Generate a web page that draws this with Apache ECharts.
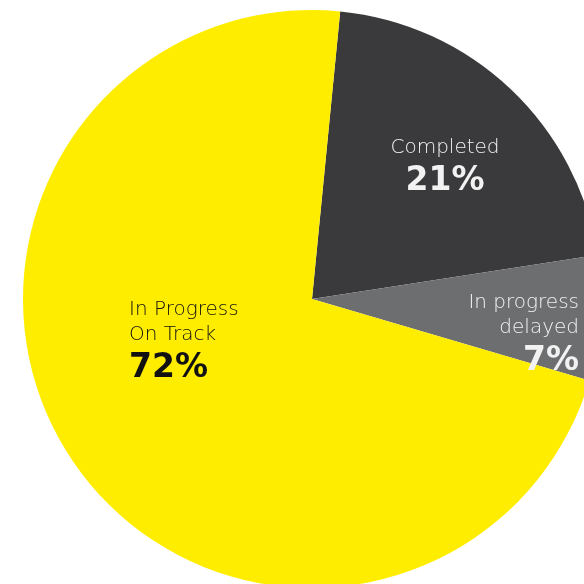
<!DOCTYPE html>
<html><head><meta charset="utf-8">
<script src="https://cdn.jsdelivr.net/npm/echarts@6/dist/echarts.min.js"></script>
<style>html,body{margin:0;padding:0;background:#fff}#c{width:584px;height:584px}</style>
</head><body><div id="c"></div>
<script>
var categories = ['Completed', 'In progress\ndelayed', 'In Progress\nOn Track'];
var values = [21, 7, 72];
var colors = ['#3a3a3c', '#6d6e70', '#ffed00'];
var labelColors = ['#f2f2f2', '#f2f2f2', '#111111'];
// label anchor layout (style, not data)
var labelPos = [
  {x: 445, y: 135, align: 'center'},
  {x: 579, y: 290, align: 'right'},
  {x: 129, y: 297, align: 'left'}
];
var chart = echarts.init(document.getElementById('c'));
var data = categories.map(function (c, i) {
  return {
    name: c, value: values[i],
    itemStyle: {color: colors[i]},
    label: {
      align: labelPos[i].align,
      rich: {
        n: {fontFamily: 'DejaVu Sans', fontWeight: 200, fontSize: 20, lineHeight: 25, color: labelColors[i], align: labelPos[i].align},
        p: {fontFamily: 'DejaVu Sans', fontWeight: 'bold', fontSize: 33, lineHeight: 43, color: labelColors[i], align: labelPos[i].align}
      }
    }
  };
});
chart.setOption({
  animation: false,
  series: [{
    type: 'pie',
    center: [312, 299],
    radius: 289,
    startAngle: 84.4,
    clockwise: true,
    data: data,
    label: {
      show: true,
      position: 'inside',
      formatter: function (p) {
        return p.name.split('\n').map(function (s) { return '{n|' + s + '}'; }).join('\n') + '\n{p|' + p.value + '%}';
      }
    },
    labelLine: {show: false},
    labelLayout: function (p) {
      var l = labelPos[p.dataIndex];
      return {x: l.x, y: l.y, align: l.align, verticalAlign: 'top'};
    },
    emphasis: {disabled: true}
  }]
});
</script></body></html>
